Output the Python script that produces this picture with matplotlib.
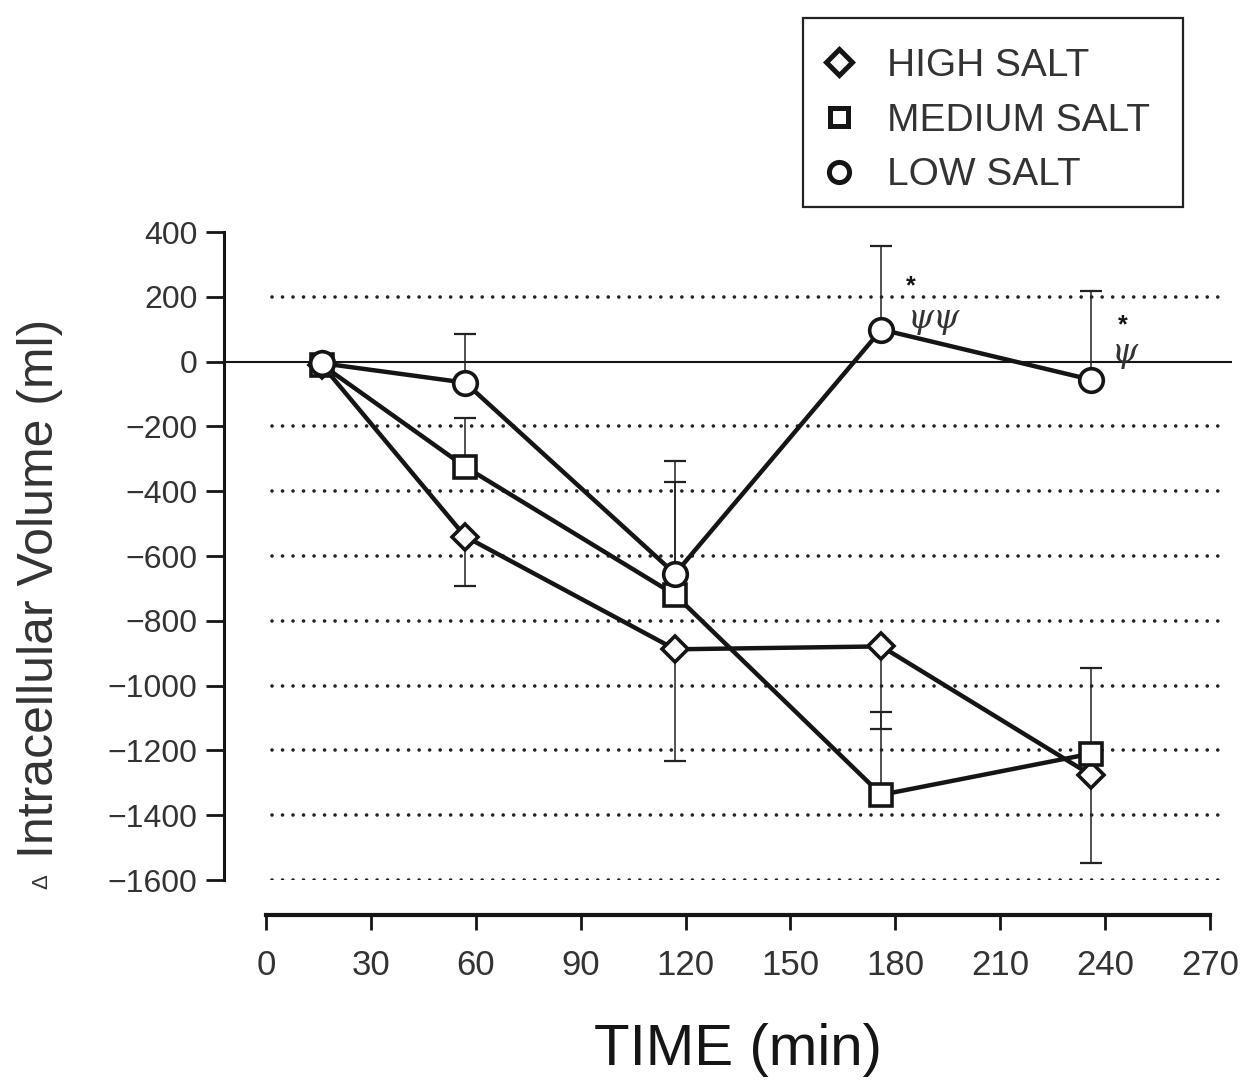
import matplotlib
matplotlib.use('Agg')
import matplotlib.pyplot as plt
from matplotlib.lines import Line2D
from matplotlib.patches import Rectangle

# ---- data ----
time_min = [16, 57, 117, 176, 236]
high_salt = [-10, -540, -888, -879, -1276]
medium_salt = [-10, -325, -720, -1337, -1210]
low_salt = [-5, -65, -655, 99, -56]
high_err_down = [0, 152, 345, 254, 271]
medium_err_up = [0, 151, 348, 256, 264]
low_err_up = [0, 151, 349, 259, 273]
series_labels = ['HIGH SALT', 'MEDIUM SALT', 'LOW SALT']
x_ticks = [0, 30, 60, 90, 120, 150, 180, 210, 240, 270]
y_ticks = [400, 200, 0, -200, -400, -600, -800, -1000, -1200, -1400, -1600]
grid_levels = [200, -200, -400, -600, -800, -1000, -1200, -1400, -1600]

plt.rcParams['font.family'] = ['Liberation Sans', 'DejaVu Sans']
INK = '#151515'
TXT = '#333333'

W, H = 1248, 1085
fig = plt.figure(figsize=(W / 100, H / 100), dpi=100)
ax = fig.add_axes([224 / W, 1 - 880 / H, (1240 - 224) / W, (880 - 232) / H])
ppm = (1210 - 266) / 270.0
ax.set_xlim((224 - 266) / ppm, (1240 - 266) / ppm)
ax.set_ylim(-1600, 400)

for s in ['top', 'right']:
    ax.spines[s].set_visible(False)
ax.spines['left'].set_linewidth(2.2)
ax.spines['left'].set_color(INK)
ax.spines['bottom'].set_position(('outward', 25))
ax.spines['bottom'].set_bounds(0, 270)
ax.spines['bottom'].set_linewidth(3)
ax.spines['bottom'].set_color(INK)

ax.set_xticks(x_ticks)
ax.set_xticklabels([str(v) for v in x_ticks])
ax.set_yticks(y_ticks)
ax.tick_params(axis='x', direction='out', length=11, width=2, pad=14,
               labelsize=25, colors=INK, labelcolor=TXT)
ax.tick_params(axis='y', direction='out', length=13, width=2, pad=6,
               labelsize=23, colors=INK, labelcolor=TXT)

# reference lines
ax.hlines(0, (224 - 266) / ppm, (1232 - 266) / ppm, color=INK, lw=1.5, zorder=1)
gl = ax.hlines(grid_levels, (272 - 266) / ppm, (1222 - 266) / ppm, color='#222222',
               lw=2.6, linestyles=[(0, (0.01, 2.9))], zorder=1)
gl.set_capstyle('round')

markers = ['D', 's', 'o']
msizes = [13.5, 16, 17]
values = [high_salt, medium_salt, low_salt]
errs = [(high_err_down, 'down'), (medium_err_up, 'up'), (low_err_up, 'up')]

for vals, (err, direction) in zip(values, errs):
    idx = [i for i, e in enumerate(err) if e > 0]
    tx = [time_min[i] for i in idx]
    vy = [vals[i] for i in idx]
    ev = [err[i] for i in idx]
    zeros = [0] * len(ev)
    yerr = [ev, zeros] if direction == 'down' else [zeros, ev]
    ax.errorbar(tx, vy, yerr=yerr, fmt='none', ecolor='#222222', elinewidth=1.1,
                capsize=8, capthick=1.6, zorder=2)

for vals, mk, ms in zip(values, markers, msizes):
    ax.plot(time_min, vals, color=INK, lw=3.2, marker=mk, ms=ms, mfc='white',
            mec=INK, mew=2.6, zorder=3)

# significance marks
ax.text(184.5, 233, '*', fontsize=18, fontweight='bold', ha='center', va='center', color=INK)
ax.text(191, 131, 'ψψ', fontsize=24, style='italic', family=['DejaVu Serif'],
        ha='center', va='center', color=TXT)
ax.text(245.1, 113, '*', fontsize=18, fontweight='bold', ha='center', va='center', color=INK)
ax.text(245.7, 27, 'ψ', fontsize=24, style='italic', family=['DejaVu Serif'],
        ha='center', va='center', color=TXT)

# legend
handles = [Line2D([], [], ls='none', marker=mk, ms=m2, mfc='white', mec=INK, mew=3.6)
           for mk, m2 in zip(markers, [13, 13.5, 14.5])]
leg = fig.legend(handles, series_labels, loc='upper left',
                 bbox_to_anchor=(820 / W, 1 - 48 / H), frameon=False, fontsize=28,
                 handlelength=1.0, handletextpad=0.73, labelspacing=0.48,
                 borderpad=0, borderaxespad=0)
for t in leg.get_texts():
    t.set_color(TXT)
fig.patches.append(Rectangle((803 / W, 1 - 207 / H), 380 / W, 189 / H,
                             transform=fig.transFigure, fill=False, lw=1.6, ec='#222222'))

# axis titles
fig.text(738 / W, 1 - 1050 / H, 'TIME (min)', ha='center', va='center', fontsize=42, color=INK)
fig.text(40 / W, 1 - 588 / H, 'Intracellular Volume (ml)', rotation=90, ha='center',
         va='center', fontsize=36, color=TXT)
fig.text(42 / W, 1 - 882 / H, 'Δ', rotation=90, ha='center', va='center', fontsize=16,
         color=TXT)

fig.savefig('out.png', dpi=100, facecolor='white')
